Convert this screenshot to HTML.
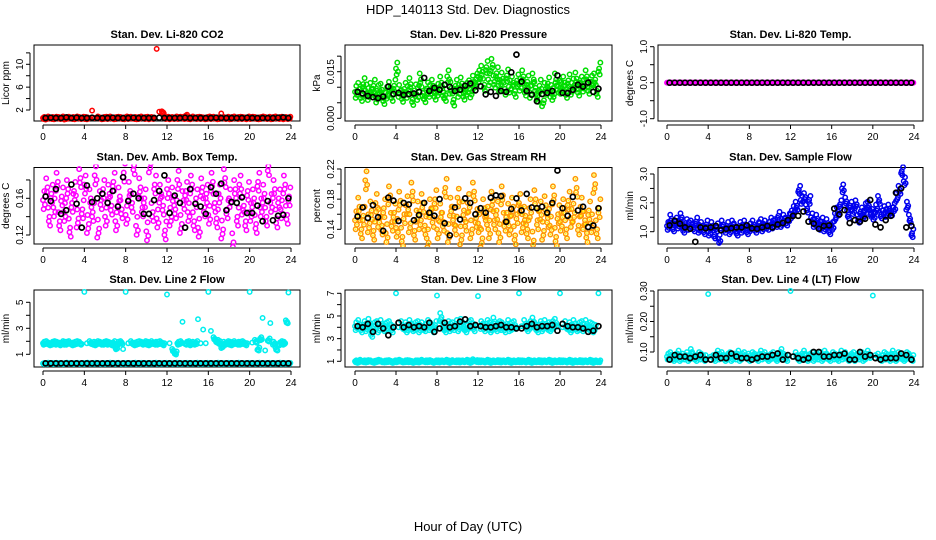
<!DOCTYPE html>
<html><head><meta charset="utf-8">
<style>
html,body{margin:0;padding:0;background:#fff;}
svg{display:block;font-family:"Liberation Sans",sans-serif;}
</style></head>
<body>
<svg id="chart" width="936" height="540" viewBox="0 0 936 540" xmlns="http://www.w3.org/2000/svg">
<rect x="0" y="0" width="936" height="540" fill="#fff"/>
<text x="468" y="14" text-anchor="middle" font-size="13">HDP_140113  Std. Dev. Diagnostics</text>
<text x="468" y="531" text-anchor="middle" font-size="13">Hour of Day (UTC)</text>
<defs id="defs"></defs>
<g id="panels"></g>
</svg>
<script>
const xTicks = [0,4,8,12,16,20,24];

const co2Red = [0.6,0.5,0.7,0.6,0.55,0.65,0.6,0.7,0.5,0.6,0.65,0.6,0.55,0.7,0.6,0.65,0.6,0.55,0.6,1.9,0.6,0.7,0.55,0.6,0.65,0.6,0.7,0.55,0.6,0.65,0.6,0.55,0.7,0.6,0.65,0.6,0.55,0.6,0.7,0.6,0.65,0.55,0.6,0.7,12.7,1.7,1.6,0.6,0.65,0.55,0.6,0.7,0.6,0.65,0.6,1.0,0.6,0.55,0.7,0.6,0.65,0.6,0.55,0.6,0.7,0.6,0.65,0.55,0.6,1.4,0.6,0.65,0.55,0.6,0.7,0.6,0.65,0.6,0.55,0.7,0.6,0.65,0.6,0.55,0.6,0.7,0.6,0.65,0.55,0.6,0.7,0.6,0.65,0.55,0.6,0.65];
const co2Black = [0.6,0.65,0.6,0.6,0.7,0.6,0.65,0.6,0.6,0.65,0.6,0.6,0.6,0.65,0.6,0.6,0.6,0.65,0.6,0.6,0.6,0.6,0.65,0.6,0.6,0.6,0.6,0.65,0.6,0.6,0.6,0.6,0.6,0.65,0.6,0.6,0.6,0.6,0.6,0.65,0.6,0.6,0.6,0.6,0.6,0.65,0.7,0.6];

const pressGreen = [.0085,.0095,.0075,.011,.009,.0078,.0095,.0105,.007,.0088,.0092,.0065,.0082,.0098,.0075,.0105,
.016,.0088,.0072,.0095,.0085,.011,.0062,.009,.0078,.0125,.0082,.0071,.0096,.0088,.0105,.0079,
.0092,.0115,.0083,.0075,.0135,.0098,.006,.0105,.0088,.0112,.0079,.0095,.0103,.0086,.0118,.0125,
.0135,.015,.0108,.0165,.0125,.0172,.0118,.0145,.0105,.0128,.0095,.0138,.0102,.0115,.0088,.0122,
.0108,.0135,.0092,.0118,.0085,.0125,.0098,.0072,.0105,.0058,.0095,.0112,.0088,.0078,.0125,.0102,
.0098,.0115,.0085,.0122,.0095,.0108,.0128,.0092,.0115,.0105,.0135,.0098,.0118,.0125,.0088,.016];
const pressBlack = [.0085,.008,.0072,.0068,.0065,.007,.0102,.0078,.0082,.0075,.0078,.008,.0085,.013,.0088,.0098,.0092,.0108,.0101,.0088,.0092,.0105,.0112,.009,.0103,.0077,.0085,.0072,.0088,.0085,.0148,.0205,.0118,.0088,.0076,.0055,.0078,.0082,.0088,.0138,.0082,.0081,.0092,.0108,.0102,.0115,.0085,.0095];

const tempMagenta = [0,0,0,0,0,0,0,0,0,0,0,0,0,0,0,0,0,0,0,0,0,0,0,0,0,0,0,0,0,0,0,0,0,0,0,0,0,0,0,0,0,0,0,0,0,0,0,0,0,0,0,0,0,0,0,0,0,0,0,0,0,0,0,0,0,0,0,0,0,0,0,0,0,0,0,0,0,0,0,0,0,0,0,0,0,0,0,0,0,0,0,0,0,0,0,0];
const tempBlack = [0,0,0,0,0,0,0,0,0,0,0,0,0,0,0,0,0,0,0,0,0,0,0,0,0,0,0,0,0,0,0,0,0,0,0,0,0,0,0,0,0,0,0,0,0,0,0,0];

const ambMagenta = [.158,.172,.140,.165,.150,.178,.135,.162,.145,.170,.128,.155,.168,.138,.182,.148,
.175,.132,.160,.145,.185,.127,.158,.170,.140,.165,.152,.178,.135,.162,.148,.188,
.142,.168,.155,.196,.130,.172,.150,.160,.124,.198,.145,.175,.138,.165,.152,.125,
.170,.140,.162,.148,.180,.132,.158,.168,.145,.175,.135,.160,.128,.172,.150,.165,
.142,.178,.155,.138,.165,.126,.182,.148,.160,.112,.170,.140,.175,.152,.135,.168,
.145,.160,.132,.178,.150,.165,.140,.195,.155,.170,.138,.160,.148,.175,.142,.162];
const ambBlack = [.162,.157,.170,.143,.147,.175,.154,.128,.174,.156,.160,.165,.155,.168,.151,.183,.157,.165,.160,.143,.143,.158,.168,.185,.144,.163,.155,.128,.170,.154,.151,.143,.172,.165,.176,.147,.156,.155,.161,.144,.144,.152,.135,.157,.136,.141,.142,.160];

const rhOrange = [.152,.170,.140,.158,.205,.148,.165,.138,.175,.155,.145,.168,.135,.185,.150,.162,
.142,.178,.130,.160,.172,.148,.190,.138,.165,.152,.175,.145,.128,.168,.155,.180,
.140,.162,.150,.195,.135,.170,.158,.145,.182,.132,.165,.150,.175,.140,.190,.155,
.148,.128,.168,.158,.140,.178,.152,.165,.135,.185,.150,.162,.145,.170,.132,.160,
.175,.148,.158,.140,.168,.125,.180,.152,.165,.138,.172,.155,.145,.185,.130,.160,
.150,.168,.140,.178,.155,.162,.195,.145,.170,.152,.135,.165,.148,.200,.140,.168];
const rhBlack = [.157,.169,.155,.172,.156,.138,.182,.178,.151,.175,.173,.152,.159,.175,.162,.158,.180,.148,.132,.169,.153,.181,.175,.160,.168,.162,.182,.185,.184,.150,.167,.181,.165,.187,.169,.168,.170,.162,.175,.218,.168,.158,.183,.165,.170,.143,.145,.168];

const flowBlue = [1.2,1.45,1.15,1.35,1.25,1.5,1.1,1.3,1.2,1.25,1.15,1.35,1.1,1.2,1.05,1.25,
1.0,1.2,0.9,1.15,0.75,1.25,1.1,1.2,1.05,1.25,1.15,1.0,1.2,1.1,1.25,1.05,
1.15,1.25,1.1,1.2,1.3,1.15,1.25,1.2,1.35,1.25,1.3,1.55,1.3,1.45,1.35,1.5,
1.6,1.75,1.9,2.45,2.1,2.2,1.8,2.1,1.5,1.3,1.45,1.2,1.35,1.15,1.3,1.05,
1.2,1.5,1.7,1.95,2.5,2.05,1.6,1.9,1.75,1.95,1.45,1.7,1.6,1.85,1.9,1.65,
1.55,1.8,2.1,1.6,1.75,1.65,1.8,1.7,1.85,2.2,2.45,3.1,2.75,1.9,1.45,0.95];
const flowBlack = [1.22,1.38,1.28,1.15,1.1,0.65,1.15,1.12,1.15,1.2,1.05,1.1,1.12,1.15,1.15,1.22,1.12,1.1,1.15,1.2,1.15,1.25,1.3,1.4,1.55,1.55,1.7,1.35,1.28,1.1,1.2,1.22,1.8,1.6,1.75,1.3,1.4,1.35,1.45,2.1,1.25,1.15,1.4,1.55,2.35,2.5,1.15,1.2];

const line2High = [1.85,1.9,1.8,1.85,1.9,1.85,1.8,1.9,1.85,1.85,1.9,1.8,1.85,1.9,1.85,1.8,
5.8,1.85,1.9,1.85,1.8,1.9,1.85,1.85,1.9,1.85,1.8,1.9,1.5,1.85,1.9,1.4,
5.8,1.85,1.9,1.8,1.85,1.9,1.85,1.9,1.85,1.8,1.9,1.85,1.85,1.9,1.8,1.85,
5.6,1.85,1.3,1.1,1.85,1.9,3.5,1.85,1.9,1.8,1.85,1.9,3.7,1.85,2.9,1.85,
5.8,2.8,2.2,2.0,1.9,1.6,1.85,1.9,1.85,1.8,1.9,1.85,1.85,1.9,1.8,1.85,
5.8,1.9,2.0,1.4,2.2,3.8,1.3,2.1,3.4,1.85,1.4,1.8,1.9,1.85,3.5,5.75];
const line2Low = [0.3,0.28,0.32,0.3,0.29,0.31,0.3,0.28,0.3,0.32,0.3,0.29,0.3,0.31,0.28,0.3,0.3,0.32,0.29,0.3,0.31,0.3,0.28,0.3,0.3,0.29,0.32,0.3,0.3,0.31,0.28,0.3,0.3,0.29,0.3,0.32,0.3,0.28,0.31,0.3,0.3,0.29,0.3,0.32,0.3,0.28,0.3,0.31,0.3,0.3,0.29,0.32,0.3,0.28,0.3,0.31,0.3,0.29,0.3,0.32,0.3,0.28,0.3,0.31,0.3,0.3,0.29,0.32,0.3,0.28,0.3,0.31,0.3,0.29,0.3,0.32,0.3,0.28,0.3,0.31,0.3,0.3,0.29,0.32,0.3,0.28,0.3,0.31,0.3,0.29,0.3,0.32,0.3,0.28,0.3,0.3];
const line2Black = [0.3,0.3,0.3,0.3,0.3,0.3,0.3,0.3,0.3,0.3,0.3,0.3,0.3,0.3,0.3,0.3,0.3,0.3,0.3,0.3,0.3,0.3,0.3,0.3,0.3,0.3,0.3,0.3,0.3,0.3,0.3,0.3,0.3,0.3,0.3,0.3,0.3,0.3,0.3,0.3,0.3,0.3,0.3,0.3,0.3,0.3,0.3,0.3];

const line3High = [4.1,4.3,3.9,4.2,4.0,4.4,3.5,4.1,4.2,3.9,4.3,4.0,4.1,4.2,3.9,4.1,
7.0,4.0,4.2,4.1,3.9,4.3,4.0,4.1,4.2,3.9,4.1,4.0,4.3,4.1,3.9,4.2,
6.8,4.9,4.1,3.9,4.2,4.0,4.1,4.3,4.0,4.4,4.1,3.9,4.2,4.3,4.0,4.1,
6.75,4.2,4.0,4.3,4.1,3.9,4.5,4.0,4.2,4.1,3.9,4.3,4.0,4.1,4.2,4.0,
7.0,4.1,4.3,4.0,4.2,4.5,4.1,3.9,4.2,4.0,4.3,4.1,4.0,4.2,4.4,4.1,
7.0,4.0,4.2,4.1,3.9,4.3,4.0,4.1,4.2,4.0,4.3,4.1,4.0,3.9,4.2,7.0];
const line3Low = [1.0,0.95,1.05,1.0,0.98,1.02,1.0,0.95,1.0,1.05,1.0,0.98,1.0,1.02,0.95,1.0,1.0,1.05,0.98,1.0,1.02,1.0,0.95,1.0,1.0,0.98,1.05,1.0,1.0,1.02,0.95,1.0,1.0,0.98,1.0,1.05,1.0,0.95,1.02,1.0,1.0,0.98,1.0,1.05,1.0,0.95,1.1,1.02,1.0,1.0,0.98,1.05,1.0,0.95,1.0,1.02,1.0,0.98,1.0,1.05,1.0,0.95,1.0,1.02,1.0,1.0,0.98,1.05,1.0,0.95,1.0,1.02,1.0,0.98,1.0,1.05,1.0,0.95,1.0,1.02,1.0,1.0,0.98,1.05,1.0,0.95,1.0,1.02,1.0,0.98,1.0,1.05,1.0,0.95,1.0,1.0];
const line3Black = [4.1,4.0,4.3,3.6,4.3,3.9,3.3,4.0,4.4,4.0,4.2,4.0,4.1,4.0,4.4,3.6,3.9,4.4,4.0,4.1,4.5,4.7,4.1,4.2,4.1,4.0,4.0,4.1,4.2,4.0,4.0,3.9,3.9,4.1,4.3,4.0,4.1,4.1,4.2,3.7,4.3,4.1,4.0,4.0,3.9,3.6,3.7,4.1];

const ltCyan = [.085,.09,.08,.085,.095,.08,.085,.09,.08,.1,.085,.08,.09,.085,.08,.09,
.29,.085,.08,.095,.085,.09,.08,.085,.09,.08,.085,.095,.08,.085,.09,.085,
.08,.09,.085,.08,.095,.085,.09,.08,.085,.09,.08,.085,.1,.085,.08,.09,
.3,.085,.09,.08,.085,.095,.08,.085,.09,.08,.085,.09,.08,.095,.085,.08,
.09,.085,.08,.095,.085,.09,.08,.085,.09,.08,.085,.09,.08,.085,.095,.08,
.285,.09,.085,.08,.09,.085,.08,.095,.085,.08,.09,.085,.08,.09,.085,.08];
const ltBlack = [.075,.09,.085,.085,.08,.085,.09,.075,.075,.09,.08,.08,.095,.085,.08,.08,.075,.08,.085,.085,.09,.095,.075,.09,.085,.08,.075,.08,.1,.1,.085,.085,.09,.09,.095,.075,.075,.1,.085,.09,.08,.075,.08,.08,.08,.095,.09,.075];

const panels = [
 {name:'li820-co2',title:'Stan. Dev. Li-820 CO2',ylab:'Licor ppm',col:0,row:0,y:[2,110,10,64.3],ticks:[2,4,6,8,10,12],labels:[2,6,10],fmt:0,bg:co2Red,bgCol:'#ff0000',blk:co2Black,sp:1,sp2:0,thr:3},
 {name:'li820-pressure',title:'Stan. Dev. Li-820 Pressure',ylab:'kPa',col:1,row:0,y:[0,118.3,0.015,71.7],ticks:[0,0.005,0.01,0.015,0.02],labels:[0,0.015],fmt:3,bg:pressGreen,bgCol:'#00dd00',blk:pressBlack,sp:6,sp2:0,thr:999},
 {name:'li820-temp',title:'Stan. Dev. Li-820 Temp.',ylab:'degrees C',col:2,row:0,y:[-1,118.7,1,46.7],ticks:[-1,-0.5,0,0.5,1],labels:[-1,0,1],fmt:1,bg:tempMagenta,bgCol:'#ff00ff',blk:tempBlack,sp:0,sp2:0,thr:999},
 {name:'amb-box-temp',title:'Stan. Dev. Amb. Box Temp.',ylab:'degrees C',col:0,row:1,y:[0.12,235,0.16,198.3],ticks:[0.12,0.14,0.16,0.18],labels:[0.12,0.16],fmt:2,bg:ambMagenta,bgCol:'#ff00ff',blk:ambBlack,sp:9,sp2:0,thr:999},
 {name:'gas-stream-rh',title:'Stan. Dev. Gas Stream RH',ylab:'percent',col:1,row:1,y:[0.14,229.3,0.22,169],ticks:[0.14,0.16,0.18,0.2,0.22],labels:[0.14,0.18,0.22],fmt:2,bg:rhOrange,bgCol:'#ff9900',inner:'#ffff00',blk:rhBlack,sp:9,sp2:0,thr:999},
 {name:'sample-flow',title:'Stan. Dev. Sample Flow',ylab:'ml/min',col:2,row:1,y:[1,231.7,3,174],ticks:[1,1.5,2,2.5,3],labels:[1,2,3],fmt:1,bg:flowBlue,bgCol:'#0000ee',blk:flowBlack,sp:4,sp2:0,thr:999},
 {name:'line2-flow',title:'Stan. Dev. Line 2 Flow',ylab:'ml/min',col:0,row:2,y:[1,354.3,5,302.3],ticks:[1,2,3,4,5],labels:[1,3,5],fmt:0,bg:line2High,bg2:line2Low,bgCol:'#00eeee',blk:line2Black,sp:1.5,sp2:0.5,thr:12},
 {name:'line3-flow',title:'Stan. Dev. Line 3 Flow',ylab:'ml/min',col:1,row:2,y:[1,361.3,7,293.3],ticks:[1,2,3,4,5,6,7],labels:[1,3,5,7],fmt:0,bg:line3High,bg2:line3Low,bgCol:'#00eeee',blk:line3Black,sp:4,sp2:1,thr:14},
 {name:'line4-lt-flow',title:'Stan. Dev. Line 4 (LT) Flow',ylab:'ml/min',col:2,row:2,y:[0.1,352,0.3,291],ticks:[0.1,0.15,0.2,0.25,0.3],labels:[0.1,0.2,0.3],fmt:2,bg:ltCyan,bgCol:'#00eeee',blk:ltBlack,sp:3,sp2:0,thr:14}
];

const NS='http://www.w3.org/2000/svg';
const cols=[{bx0:34,bx1:300,x0:43,x24:291},{bx0:345,bx1:612,x0:355,x24:601},{bx0:658,bx1:923,x0:667,x24:914}];
const rows=[{by0:45,by1:121},{by0:167.5,by1:244},{by0:290,by1:367}];
const jitterPattern=[0,1,-1,0.5];
const root=document.getElementById('panels');
const defs=document.getElementById('defs');
function mk(tag,attrs,parent){const e=document.createElementNS(NS,tag);for(const k in attrs)e.setAttribute(k,attrs[k]);parent.appendChild(e);return e;}

panels.forEach((p,pi)=>{
  const c=cols[p.col], r=rows[p.row];
  const xs=h=>c.x0+(c.x24-c.x0)*h/24;
  const ys=v=>p.y[1]+(v-p.y[0])*(p.y[3]-p.y[1])/(p.y[2]-p.y[0]);
  const cp=mk('clipPath',{id:'clip'+pi},defs);
  mk('rect',{x:c.bx0-6,y:r.by0-3,width:c.bx1-c.bx0+12,height:r.by1-r.by0+6},cp);
  const g=mk('g',{},root);
  
  
  const t=mk('text',{x:(c.bx0+c.bx1)/2,y:r.by0-7,'text-anchor':'middle','font-size':'11','font-weight':'bold'},g);
  t.textContent=p.title;
  
  
  const yl=mk('text',{x:0,y:0,'text-anchor':'middle','font-size':'10',transform:`translate(${c.bx0-25},${(r.by0+r.by1)/2}) rotate(-90)`},g);
  yl.textContent=p.ylab;
  
  
  const xa=mk('g',{},g);
  
  
  mk('line',{x1:xs(0),x2:xs(24),y1:r.by1+4,y2:r.by1+4,stroke:'#000','stroke-width':1},xa);
  xTicks.forEach(h=>{
    mk('line',{x1:xs(h),x2:xs(h),y1:r.by1+4,y2:r.by1+8,stroke:'#000','stroke-width':1},xa);
    const tl=mk('text',{x:xs(h),y:r.by1+19,'text-anchor':'middle','font-size':'10'},xa);
    tl.textContent=h;
    
    
  });
  const ya=mk('g',{},g);
  
  
  const tk=p.ticks;
  mk('line',{x1:c.bx0-4,x2:c.bx0-4,y1:ys(tk[0]),y2:ys(tk[tk.length-1]),stroke:'#000','stroke-width':1},ya);
  tk.forEach(v=>{mk('line',{x1:c.bx0-8,x2:c.bx0-4,y1:ys(v),y2:ys(v),stroke:'#000','stroke-width':1},ya);});
  p.labels.forEach(v=>{
    const tl=mk('text',{x:0,y:0,'text-anchor':'middle','font-size':'10',transform:`translate(${c.bx0-11},${ys(v)}) rotate(-90)`},ya);
    tl.textContent=v.toFixed(p.fmt);
    
    
  });
  const bx=mk('rect',{x:c.bx0,y:r.by0,width:c.bx1-c.bx0,height:r.by1-r.by0,fill:'none',stroke:'#000','stroke-width':1},g);
  
  
  const drawSeries=(arr,step,off,col,rad,sw,nm,inner,spread,dense)=>{
    const sg=mk('g',{'clip-path':`url(#clip${pi})`},g);
    
    
    arr.forEach((v,i)=>{
      const prev=i>0?arr[i-1]:arr[i+1], next=i<arr.length-1?arr[i+1]:arr[i-1];
      const outlier=Math.abs(ys(v)-ys((prev+next)/2))>p.thr;
      const reps=(dense&&!outlier)?4:1;
      for(let k=0;k<reps;k++){
        const cx=xs(i*step+off+k*step/4);
        const cy=ys(v)+(reps>1?jitterPattern[(i+k)%4]*spread:0);
        const pt=mk('circle',{cx:cx,cy:cy,r:rad,fill:'none',stroke:col,'stroke-width':sw},sg);
        
        
        if(inner){mk('circle',{cx:cx,cy:cy,r:0.9,fill:inner},sg);}
      }
    });
  };
  if(p.bg2) drawSeries(p.bg2,0.25,0,p.bgCol,2.2,1.5,p.name+'-low-series',null,p.sp2,true);
  drawSeries(p.bg,0.25,0,p.bgCol,2.2,1.5,p.name+'-series',p.inner,p.sp,true);
  drawSeries(p.blk,0.5,0.25,'#000',2.5,1.7,p.name+'-hourly-series',null,0,false);
});
</script>
</body></html>
